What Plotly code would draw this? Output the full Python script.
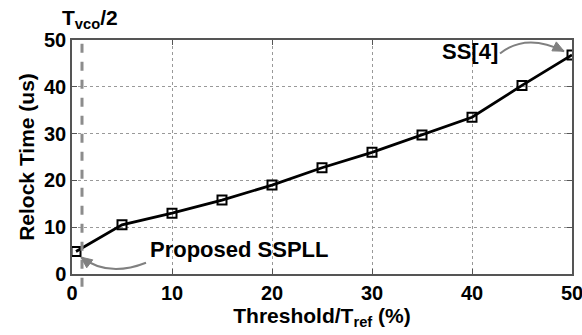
import plotly.graph_objects as go

threshold = [0.4, 5, 10, 15, 20, 25, 30, 35, 40, 45, 50]
relock_time = [4.8, 10.5, 13.0, 15.8, 19.0, 22.7, 26.0, 29.7, 33.5, 40.3, 46.8]
x_ticks = [0, 10, 20, 30, 40, 50]
y_ticks = [0, 10, 20, 30, 40, 50]
tvco_half = 1.0

FONT = "Liberation Sans Narrow, Arial Narrow, Liberation Sans, Arial, sans-serif"
W, H = 582, 335
ML, MR, MT, MB = 72, 10, 40, 61
XR, YR = (0, 50), (0, 50)
SX = (W - ML - MR) / (XR[1] - XR[0])
SY = (H - MT - MB) / (YR[1] - YR[0])

fig = go.Figure()
fig.add_trace(go.Scatter(
    x=threshold, y=relock_time, mode="lines+markers",
    line=dict(color="black", width=2.8),
    marker=dict(symbol="square-open", size=9, color="black", line=dict(width=2)),
    showlegend=False,
))

fig.add_shape(type="line", x0=tvco_half, x1=tvco_half, y0=-0.055, y1=1, yref="paper",
              line=dict(color="#8c8c8c", width=3, dash="dash"))


def curve(p0, p1, p2):
    return f"M {p0[0]},{p0[1]} Q {p1[0]},{p1[1]} {p2[0]},{p2[1]}"


def head(tip, ctrl, length=11, half=5):
    dx = (tip[0] - ctrl[0]) * SX
    dy = (tip[1] - ctrl[1]) * SY
    n = (dx * dx + dy * dy) ** 0.5
    ux, uy = dx / n, dy / n
    bx, by = -ux * length, -uy * length
    px, py = -uy * half, ux * half
    a = (tip[0] + (bx + px) / SX, tip[1] + (by + py) / SY)
    b = (tip[0] + (bx - px) / SX, tip[1] + (by - py) / SY)
    return f"M {tip[0]},{tip[1]} L {a[0]},{a[1]} L {b[0]},{b[1]} Z"


GRAY = "#808080"
s0, c0, t0 = (7.4, 2.4), (3.6, -0.8), (0.9, 3.6)
fig.add_shape(type="path", path=curve(s0, c0, t0), line=dict(color=GRAY, width=2))
fig.add_shape(type="path", path=head(t0, c0), fillcolor=GRAY, line=dict(color=GRAY, width=1))
s1, c1, t1 = (42.8, 47.1), (45.4, 51.6), (49.2, 47.6)
fig.add_shape(type="path", path=curve(s1, c1, t1), line=dict(color=GRAY, width=2))
fig.add_shape(type="path", path=head(t1, c1), fillcolor=GRAY, line=dict(color=GRAY, width=1))

fig.add_annotation(x=7.6, y=5.3, text="Proposed SSPLL", showarrow=False,
                   xanchor="left", yanchor="middle",
                   font=dict(family=FONT, size=22, color="black", weight="bold"))
fig.add_annotation(x=36.8, y=47.5, text="SS[4]", showarrow=False,
                   xanchor="left", yanchor="middle",
                   font=dict(family=FONT, size=22, color="black", weight="bold"))
fig.add_annotation(x=tvco_half, y=1.0, yref="paper", yshift=21, xshift=8,
                   text="T<sub>vco</sub>/2",
                   showarrow=False, xanchor="center", yanchor="middle",
                   font=dict(family=FONT, size=21, color="black", weight="bold"))

axis_common = dict(
    showline=True, linecolor="#555555", linewidth=1.5, mirror="ticks",
    showgrid=True, gridcolor="#999999", griddash="dot", gridwidth=1,
    ticks="inside", ticklen=5, tickcolor="#555555",
    zeroline=False, automargin=False, ticklabeloverflow="allow",
    tickfont=dict(family=FONT, size=20, color="black", weight="bold"),
)
fig.update_xaxes(range=list(XR), tickvals=x_ticks,
                 title=dict(text="Threshold/T<sub>ref</sub> (%)", standoff=0,
                            font=dict(family=FONT, size=21, color="black", weight="bold")),
                 **axis_common)
fig.update_yaxes(range=list(YR), tickvals=y_ticks,
                 title=dict(text="Relock Time (us)", standoff=4,
                            font=dict(family=FONT, size=21, color="black", weight="bold")),
                 **axis_common)

fig.update_layout(width=W, height=H, margin=dict(l=ML, r=MR, t=MT, b=MB),
                  plot_bgcolor="white", paper_bgcolor="white")
fig.write_html("out.html")
